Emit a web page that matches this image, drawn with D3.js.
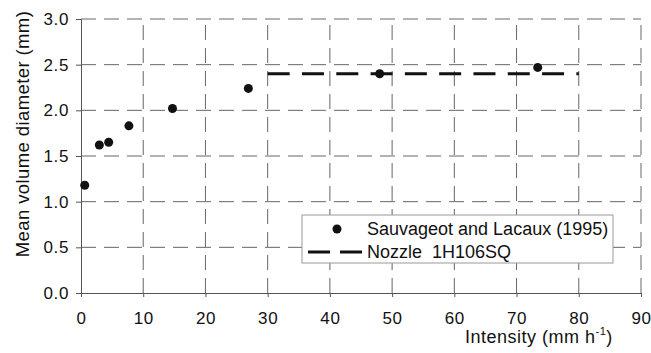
<!DOCTYPE html>
<html>
<head>
<meta charset="utf-8">
<script src="https://d3js.org/d3.v7.min.js"></script>
<style>
  body { margin: 0; background: #fff; }
  svg { display: block; font-family: "Liberation Sans", Arial, sans-serif; }
</style>
</head>
<body>
<svg></svg>
<script>
const width = 651;
const height = 353;

// Sauvageot and Lacaux (1995) points
const obsX = [0.6, 2.95, 4.45, 7.7, 14.7, 26.9, 48, 73.4];
const obsY = [1.18, 1.62, 1.65, 1.83, 2.02, 2.24, 2.40, 2.47];

// Nozzle 1H106SQ
const nozzleX = [30, 80];
const nozzleY = [2.40, 2.40];

const xTicks = [0, 10, 20, 30, 40, 50, 60, 70, 80, 90];
const yTicks = [0, 0.5, 1.0, 1.5, 2.0, 2.5, 3.0];

const margin = {top: 19, right: 10, bottom: 60, left: 81};

const svg = d3.select('svg')
  .attr('width', width)
  .attr('height', height);

const x = d3.scaleLinear().domain([0, 90]).range([margin.left, width - margin.right]);
const y = d3.scaleLinear().domain([0, 3]).range([height - margin.bottom, margin.top]);

const gridColor = '#666';

// grid lines
svg.append('g')
  .selectAll('line')
  .data(xTicks.slice(1))
  .enter()
  .append('line')
  .attr('x1', d => x(d)).attr('x2', d => x(d))
  .attr('y1', y(0)).attr('y2', y(3))
  .attr('stroke', gridColor)
  .attr('stroke-width', 1)
  .attr('stroke-dasharray', '15,8');

svg.append('g')
  .selectAll('line')
  .data(yTicks.slice(1))
  .enter()
  .append('line')
  .attr('x1', x(0)).attr('x2', x(90))
  .attr('y1', d => y(d)).attr('y2', d => y(d))
  .attr('stroke', gridColor)
  .attr('stroke-width', 1)
  .attr('stroke-dasharray', '15,8');

// axes
const xAxis = svg.append('g')
  .attr('transform', `translate(0,${y(0)})`)
  .call(d3.axisBottom(x).tickValues(xTicks).tickSize(4).tickFormat(d3.format('d')));

const yAxis = svg.append('g')
  .attr('transform', `translate(${x(0)},0)`)
  .call(d3.axisLeft(y).tickValues(yTicks).tickSize(5).tickFormat(d3.format('.1f')));

[xAxis, yAxis].forEach(g => {
  g.select('.domain').attr('stroke', '#555').attr('stroke-width', 1);
  g.selectAll('.tick line').attr('stroke', '#555');
  g.selectAll('.tick text')
    .attr('fill', '#111')
    .style('font-size', '17px')
    .style('letter-spacing', '0.6px')
    .style('font-family', '"Liberation Sans", Arial, sans-serif');
});
xAxis.selectAll('.tick text').attr('dy', '1.4em');
yAxis.selectAll('.tick text').attr('x', -12);

// nozzle line
const line = d3.line()
  .x((d, i) => x(nozzleX[i]))
  .y((d, i) => y(nozzleY[i]));

svg.append('path')
  .datum(nozzleX)
  .attr('d', line)
  .attr('fill', 'none')
  .attr('stroke', '#111')
  .attr('stroke-width', 3)
  .attr('stroke-dasharray', '22,12.3');

// points
svg.append('g')
  .selectAll('circle')
  .data(obsX)
  .enter()
  .append('circle')
  .attr('cx', d => x(d))
  .attr('cy', (d, i) => y(obsY[i]))
  .attr('r', 4.5)
  .attr('fill', '#111');

// legend
const legend = svg.append('g');
legend.append('rect')
  .attr('x', 302).attr('y', 215)
  .attr('width', 311).attr('height', 48)
  .attr('fill', '#fff')
  .attr('stroke', '#999')
  .attr('stroke-width', 1);

legend.append('circle')
  .attr('cx', 337).attr('cy', 229)
  .attr('r', 4.5)
  .attr('fill', '#111');

legend.append('line')
  .attr('x1', 308).attr('x2', 362)
  .attr('y1', 252).attr('y2', 252)
  .attr('stroke', '#111')
  .attr('stroke-width', 3)
  .attr('stroke-dasharray', '22,10');

legend.append('text')
  .attr('x', 367).attr('y', 235)
  .style('font-size', '18px')
  .attr('fill', '#111')
  .text('Sauvageot and Lacaux (1995)');

legend.append('text')
  .attr('x', 367).attr('y', 258)
  .style('font-size', '18px')
  .attr('fill', '#111')
  .attr('xml:space', 'preserve')
  .text('Nozzle  1H106SQ');

// axis titles
svg.append('text')
  .attr('transform', `translate(29,${(y(0) + y(3)) / 2 - 22}) rotate(-90)`)
  .attr('text-anchor', 'middle')
  .style('font-size', '18.5px')
  .style('letter-spacing', '0.4px')
  .attr('fill', '#111')
  .text('Mean volume diameter (mm)');

const xt = svg.append('text')
  .attr('x', 465).attr('y', 343)
  .style('font-size', '18px')
  .style('letter-spacing', '0.5px')
  .attr('fill', '#111');
xt.append('tspan').text('Intensity (mm h');
xt.append('tspan').attr('dy', -8).style('font-size', '11px').text('-1');
xt.append('tspan').attr('dy', 8).text(')');
</script>
</body>
</html>
